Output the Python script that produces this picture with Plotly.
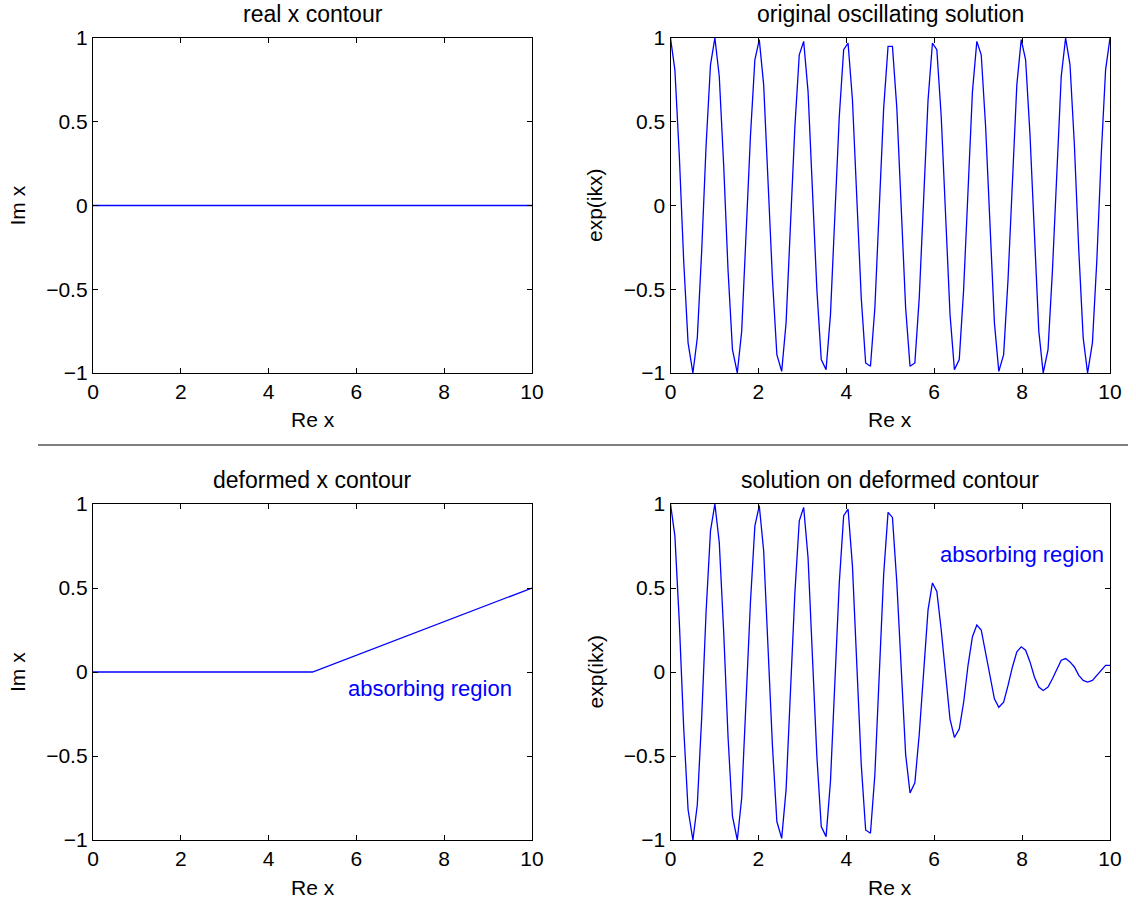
import plotly.graph_objects as go

# ---------------- data ----------------
x_grid = [0.00, 0.10, 0.20, 0.30, 0.40, 0.51, 0.61, 0.71, 0.81, 0.91,
          1.01, 1.11, 1.21, 1.31, 1.41, 1.52, 1.62, 1.72, 1.82, 1.92,
          2.02, 2.12, 2.22, 2.32, 2.42, 2.53, 2.63, 2.73, 2.83, 2.93,
          3.03, 3.13, 3.23, 3.33, 3.43, 3.54, 3.64, 3.74, 3.84, 3.94,
          4.04, 4.14, 4.24, 4.34, 4.44, 4.55, 4.65, 4.75, 4.85, 4.95,
          5.05, 5.15, 5.25, 5.35, 5.45, 5.56, 5.66, 5.76, 5.86, 5.96,
          6.06, 6.16, 6.26, 6.36, 6.46, 6.57, 6.67, 6.77, 6.87, 6.97,
          7.07, 7.17, 7.27, 7.37, 7.47, 7.58, 7.68, 7.78, 7.88, 7.98,
          8.08, 8.18, 8.28, 8.38, 8.48, 8.59, 8.69, 8.79, 8.89, 8.99,
          9.09, 9.19, 9.29, 9.39, 9.49, 9.60, 9.70, 9.80, 9.90, 10.00]

# original oscillating solution exp(ikx) (real part)
y_original = [1.00, 0.81, 0.30, -0.33, -0.82, -1.00, -0.79, -0.27, 0.36, 0.84,
              1.00, 0.77, 0.24, -0.39, -0.86, -1.00, -0.75, -0.20, 0.42, 0.87,
              0.99, 0.72, 0.17, -0.44, -0.89, -0.99, -0.70, -0.14, 0.47, 0.90,
              0.98, 0.68, 0.11, -0.50, -0.92, -0.98, -0.65, -0.08, 0.53, 0.93,
              0.97, 0.63, 0.05, -0.55, -0.94, -0.96, -0.61, -0.02, 0.58, 0.95,
              0.95, 0.58, -0.02, -0.61, -0.96, -0.94, -0.55, 0.05, 0.63, 0.97,
              0.93, 0.53, -0.08, -0.65, -0.98, -0.92, -0.50, 0.11, 0.68, 0.98,
              0.90, 0.47, -0.14, -0.70, -0.99, -0.89, -0.44, 0.17, 0.72, 0.99,
              0.87, 0.42, -0.20, -0.75, -1.00, -0.86, -0.39, 0.24, 0.77, 1.00,
              0.84, 0.36, -0.27, -0.79, -1.00, -0.82, -0.33, 0.30, 0.81, 1.00]

# solution on deformed contour
y_deformed = [1.00, 0.81, 0.30, -0.33, -0.82, -1.00, -0.79, -0.27, 0.36, 0.84,
              1.00, 0.77, 0.24, -0.39, -0.86, -1.00, -0.75, -0.20, 0.42, 0.87,
              0.99, 0.72, 0.17, -0.44, -0.89, -0.99, -0.70, -0.14, 0.47, 0.90,
              0.98, 0.68, 0.11, -0.50, -0.92, -0.98, -0.65, -0.08, 0.53, 0.93,
              0.97, 0.63, 0.05, -0.55, -0.94, -0.96, -0.61, -0.02, 0.58, 0.95,
              0.92, 0.53, -0.01, -0.49, -0.72, -0.66, -0.37, 0.03, 0.37, 0.53,
              0.48, 0.25, -0.04, -0.28, -0.39, -0.34, -0.18, 0.04, 0.21, 0.28,
              0.25, 0.12, -0.03, -0.16, -0.21, -0.18, -0.08, 0.03, 0.12, 0.15,
              0.13, 0.06, -0.03, -0.09, -0.11, -0.09, -0.04, 0.02, 0.07, 0.08,
              0.06, 0.03, -0.02, -0.05, -0.06, -0.05, -0.02, 0.01, 0.04, 0.04]

# contours in the complex plane
real_contour_x = [0, 10]
real_contour_y = [0, 0]
deformed_contour_x = [0, 5, 10]
deformed_contour_y = [0, 0, 0.5]

titles = ["real x contour", "original oscillating solution",
          "deformed x contour", "solution on deformed contour"]
x_label = "Re x"
y_labels = ["Im x", "exp(ikx)", "Im x", "exp(ikx)"]
x_ticks = [0, 2, 4, 6, 8, 10]
y_ticks = [-1, -0.5, 0, 0.5, 1]
annotation_text = "absorbing region"

# ---------------- figure ----------------
W, H = 1136, 902
FONT = "Liberation Sans, Arial, Helvetica, sans-serif"
BLUE = "#0000ff"

fig = go.Figure()

series = [
    (real_contour_x, real_contour_y),
    (x_grid, y_original),
    (deformed_contour_x, deformed_contour_y),
    (x_grid, y_deformed),
]
for i, (xs, ys) in enumerate(series):
    sfx = "" if i == 0 else str(i + 1)
    fig.add_trace(go.Scatter(x=xs, y=ys, mode="lines",
                             line=dict(color=BLUE, width=1.3),
                             xaxis="x" + sfx, yaxis="y" + sfx,
                             showlegend=False, hoverinfo="skip"))

# pixel geometry of the four plot areas (left, right, top, bottom)
boxes = [(93, 532, 38, 373), (670.5, 1110, 38, 373),
         (93, 532, 504, 840), (670.5, 1110, 504, 840)]

axis_common = dict(showline=True, linecolor="black", linewidth=1.3,
                   mirror="ticks", ticks="inside", ticklen=5,
                   tickcolor="black", tickwidth=1, showgrid=False,
                   zeroline=False, automargin=False,
                   tickfont=dict(family=FONT, size=21, color="black"))

layout = dict(width=W, height=H,
              margin=dict(l=0, r=0, t=0, b=0, pad=0, autoexpand=False),
              paper_bgcolor="white", plot_bgcolor="white",
              font=dict(family=FONT, size=21, color="black"))

annotations = []
for i, (l, r, t, b) in enumerate(boxes):
    sfx = "" if i == 0 else str(i + 1)
    layout["xaxis" + sfx] = dict(axis_common, domain=[l / W, r / W],
                                 range=[0, 10], tickvals=x_ticks,
                                 anchor="y" + sfx)
    layout["yaxis" + sfx] = dict(axis_common, domain=[1 - b / H, 1 - t / H],
                                 range=[-1, 1], tickvals=y_ticks,
                                 anchor="x" + sfx)
    cx = (l + r) / 2
    # subplot title
    annotations.append(dict(text=titles[i], x=cx / W, y=1 - (t - 24) / H,
                            xref="paper", yref="paper", xanchor="center",
                            yanchor="middle", showarrow=False,
                            font=dict(family=FONT, size=23, color="black")))
    # x label
    annotations.append(dict(text=x_label, x=cx / W, y=1 - (b + 47) / H,
                            xref="paper", yref="paper", xanchor="center",
                            yanchor="middle", showarrow=False,
                            font=dict(family=FONT, size=21, color="black")))
    # y label
    annotations.append(dict(text=y_labels[i], x=(l - 76) / W,
                            y=1 - ((t + b) / 2) / H,
                            xref="paper", yref="paper", xanchor="center",
                            yanchor="middle", showarrow=False, textangle=-90,
                            font=dict(family=FONT, size=21, color="black")))

# "absorbing region" labels
annotations.append(dict(text=annotation_text, x=7.68, y=-0.10, xref="x3", yref="y3",
                        xanchor="center", yanchor="middle", showarrow=False,
                        font=dict(family=FONT, size=22, color=BLUE)))
annotations.append(dict(text=annotation_text, x=7.99, y=0.70, xref="x4", yref="y4",
                        xanchor="center", yanchor="middle", showarrow=False,
                        font=dict(family=FONT, size=22, color=BLUE)))

layout["annotations"] = annotations
layout["shapes"] = [dict(type="line", xref="paper", yref="paper",
                         x0=38 / W, x1=1128 / W, y0=1 - 445 / H, y1=1 - 445 / H,
                         line=dict(color="#555555", width=1.5))]

fig.update_layout(**layout)
fig.write_html("out.html")
